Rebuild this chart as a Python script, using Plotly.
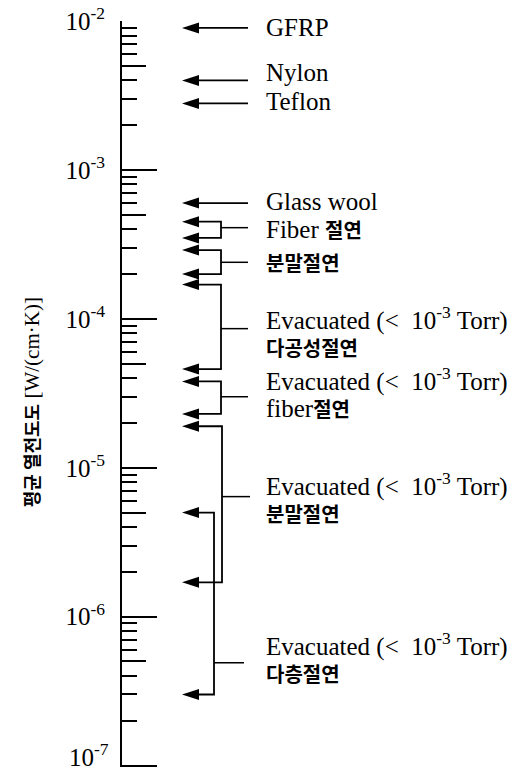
import numpy as np
import plotly.graph_objects as go

# ---------------- data ----------------
materials = ["GFRP", "Nylon", "Teflon", "Glass wool", "Fiber 절연", "분말절연",
             "Evacuated 다공성절연", "Evacuated fiber절연", "Evacuated 분말절연", "Evacuated 다층절연"]
k_upper = [9.0e-3, 4.0e-3, 2.8e-3, 6.0e-4, 4.5e-4, 2.9e-4, 1.7e-4, 3.8e-5, 1.9e-5, 5.0e-6]
k_lower = [None, None, None, None, 3.5e-4, 2.0e-4, 4.6e-5, 2.3e-5, 1.7e-6, 3.0e-7]

decade_vals = [1e-7, 1e-6, 1e-5, 1e-4, 1e-3, 1e-2]
decade_text = ["10<sup>-7</sup>", "10<sup>-6</sup>", "10<sup>-5</sup>",
               "10<sup>-4</sup>", "10<sup>-3</sup>", "10<sup>-2</sup>"]

KR = "font-family:Noto Sans CJK KR;font-weight:bold;font-size:20px"
KR_AX = "font-family:Noto Sans CJK KR;font-weight:bold;font-size:18px"
EVAC = "Evacuated (&lt;\u00a0\u00a010<sup>-3</sup> Torr)"
label_line1 = ["GFRP", "Nylon", "Teflon", "Glass wool",
               f"Fiber <span style='{KR}'>절연</span>",
               f"<span style='{KR}'>분말절연</span>",
               EVAC, EVAC, EVAC, EVAC]
label_line2 = [None, None, None, None, None, None,
               f"<span style='{KR}'>다공성절연</span>",
               f"fiber<span style='{KR}'>절연</span>",
               f"<span style='{KR}'>분말절연</span>",
               f"<span style='{KR}'>다층절연</span>"]
y_title = f"<span style='{KR_AX}'>평균 열전도도</span> [W/(cm·K)]"

# ---------------- layout positions (not data) ----------------
text_pos = [9.0e-3, 4.5e-3, 2.9e-3, 6.1e-4, 4.0e-4, 2.4e-4, 1.0e-4, 3.9e-5, 7.7e-6, 6.5e-7]
conn_pos = [None, None, None, None, 4.1e-4, 2.4e-4, 8.6e-5, 3.0e-5, 6.4e-6, 4.9e-7]
bracket_x = [None, None, None, None, 221, 221, 221, 221, 222, 214]
conn_end_x = [248, 248, 248, 248, 248, 248, 248, 248, 250, 244]
TIP_X = 182
TEXT_X = 264
LW = 1.8

W, H = 514, 773
ML, MR, MT, MB = 122, 0, 21, 6

fig = go.Figure()

def line(xs, ys, width=LW):
    fig.add_trace(go.Scatter(x=xs, y=ys, mode="lines",
                             line=dict(color="black", width=width),
                             showlegend=False, hoverinfo="skip"))

shapes = []

def head(yv):
    shapes.append(dict(type="path", xref="x", yref="y",
                       xsizemode="pixel", ysizemode="pixel",
                       xanchor=TIP_X, yanchor=yv,
                       path="M0,0 L17,5.5 L17,-5.5 Z",
                       fillcolor="black", line=dict(width=0)))

for i in range(len(materials)):
    up, lo = k_upper[i], k_lower[i]
    if lo is None:
        line([TIP_X + 8, conn_end_x[i]], [up, up])
        head(up)
    else:
        bx = bracket_x[i]
        line([TIP_X + 8, bx, bx, TIP_X + 8], [up, up, lo, lo])
        line([bx, conn_end_x[i]], [conn_pos[i], conn_pos[i]], width=1.5)
        head(up)
        head(lo)

# dummy trace to activate the overlay axis carrying the "5" ticks
fig.add_trace(go.Scatter(x=[None], y=[None], yaxis="y2", showlegend=False, hoverinfo="skip"))

annotations = []
for i in range(len(materials)):
    ylog = float(np.log10(text_pos[i]))
    annotations.append(dict(xref="x", yref="y", x=TEXT_X, y=ylog, text=label_line1[i],
                            showarrow=False, xanchor="left", yanchor="middle",
                            font=dict(family="Liberation Serif", size=25, color="black")))
    if label_line2[i] is not None:
        annotations.append(dict(xref="x", yref="y", x=TEXT_X, y=ylog, yshift=-29,
                                text=label_line2[i], showarrow=False,
                                xanchor="left", yanchor="middle",
                                font=dict(family="Liberation Serif", size=25, color="black")))

annotations.append(dict(xref="paper", yref="paper", x=-0.232, y=0.489,
                        text=y_title,
                        textangle=-90, showarrow=False, xanchor="center", yanchor="middle",
                        font=dict(family="Liberation Serif", size=21, color="black")))

# lowest decade label: kept inside the page (it would be clipped as a tick label)
annotations.append(dict(xref="paper", yref="paper", x=-11 / (W - ML - MR), y=0, yshift=-MB,
                        text=decade_text[0], showarrow=False,
                        xanchor="right", yanchor="bottom",
                        font=dict(family="Liberation Serif", size=25, color="black")))

tick_text = [""] + decade_text[1:]
minor_vals = [k * 10.0 ** e for e in range(-7, -2) for k in (2, 3, 4, 6, 7, 8, 9)]
five_vals = [5 * 10.0 ** e for e in range(-7, -2)]
Y_RANGE = [-7.01, -1.999]

fig.update_layout(
    width=W, height=H,
    margin=dict(l=ML, r=MR, t=MT, b=MB, autoexpand=False),
    paper_bgcolor="white", plot_bgcolor="white",
    showlegend=False,
    xaxis=dict(range=[ML, W], visible=False, fixedrange=True),
    yaxis=dict(type="log", range=Y_RANGE, showline=True, linecolor="black", linewidth=2,
               showgrid=False, zeroline=False, automargin=False,
               tickmode="array", tickvals=decade_vals, ticktext=tick_text,
               ticks="inside", ticklen=35, tickwidth=2, tickcolor="black",
               ticklabelstandoff=10, ticklabeloverflow="allow",
               tickfont=dict(family="Liberation Serif", size=25, color="black"),
               minor=dict(tickmode="array", tickvals=minor_vals, ticks="inside",
                          ticklen=15, tickwidth=2, tickcolor="black", showgrid=False)),
    yaxis2=dict(type="log", range=Y_RANGE, overlaying="y", side="left", anchor="x",
                showline=False, showgrid=False, zeroline=False, showticklabels=False,
                automargin=False,
                tickmode="array", tickvals=five_vals,
                ticks="inside", ticklen=24, tickwidth=2, tickcolor="black"),
    shapes=shapes,
    annotations=annotations,
)

fig.write_html("out.html")
